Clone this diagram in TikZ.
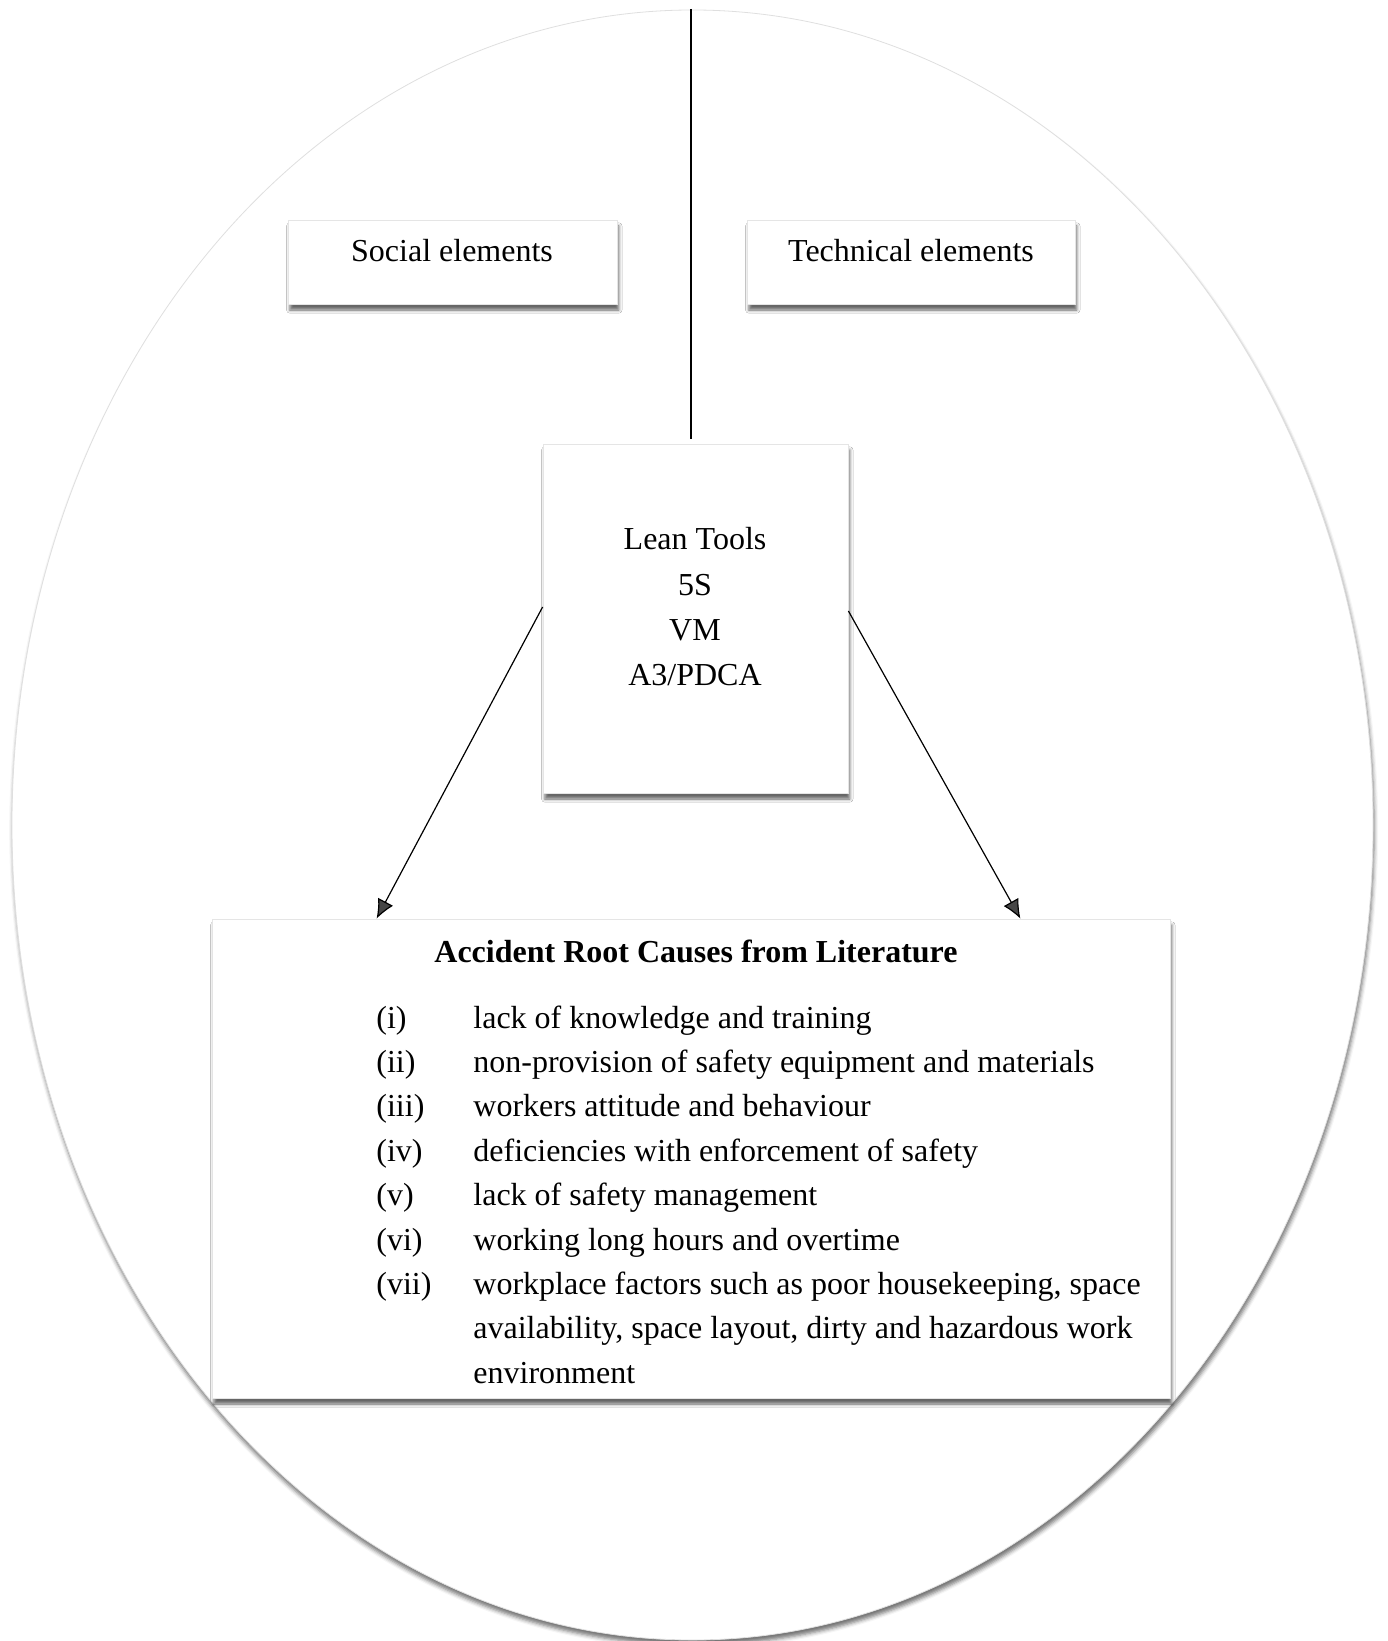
\documentclass[tikz,border=0pt]{standalone}
\usepackage{fontspec}
\setmainfont{Liberation Serif}
\usetikzlibrary{arrows.meta,shadows.blur,calc}

\begin{document}
\begin{tikzpicture}[x=0.5pt,y=-0.5pt,
  softshadow/.style={blur shadow={shadow xshift=0.9pt, shadow yshift=-3pt,
      shadow blur radius=1.6pt, shadow opacity=60}},
  ringshadow/.style={blur shadow={shadow xshift=0.6pt, shadow yshift=-2.5pt,
      shadow blur radius=2pt, shadow opacity=55}},
  panel/.style={draw=gray!20, line width=0.4pt, fill=white, inner sep=0pt, softshadow},
  txt/.style={font=\fontsize{16}{22.5}\selectfont, inner sep=0pt, anchor=base},
  itm/.style={txt, anchor=base west},
  arr/.style={-{Latex[length=9.5pt,width=8.5pt]}, line width=0.6pt},
]
\useasboundingbox (0,0) rectangle (1387,1641);
\clip (0,0) rectangle (1387,1641);

% outer ellipse
\path[draw=gray!25, line width=0.4pt, fill=white, ringshadow]
  (692.5,825) ellipse [x radius=680.5, y radius=815];

% boxes
\node[panel, minimum width=164.5pt, minimum height=42pt] (social) at (452.5,262) {};
\node[panel, minimum width=164pt, minimum height=42pt] (tech) at (911,262) {};
\node[panel, minimum width=152.5pt, minimum height=174.5pt] (lean) at (695.5,618.5) {};
\node[panel, minimum width=479pt, minimum height=239.5pt] (root) at (691,1158.5) {};

% box texts
\node[txt] (socialtxt) at (452,262) {Social elements};
\node[txt] (techtxt) at (911,262) {Technical elements};

\node[txt] (lean1) at (695,550) {Lean Tools};
\node[txt] (lean2) at (695,595) {5S};
\node[txt] (lean3) at (695,640) {VM};
\node[txt] (lean4) at (695,685) {A3/PDCA};

\node[txt, font=\fontsize{16}{22.5}\selectfont\bfseries] (title) at (696,962)
  {Accident Root Causes from Literature};

\node[itm] (n1) at (376,1028) {(i)};
\node[itm] (t1) at (473,1028) {lack of knowledge and training};
\node[itm] (n2) at (376,1072.4) {(ii)};
\node[itm] (t2) at (473,1072.4) {non-provision of safety equipment and materials};
\node[itm] (n3) at (376,1116.8) {(iii)};
\node[itm] (t3) at (473,1116.8) {workers attitude and behaviour};
\node[itm] (n4) at (376,1161.2) {(iv)};
\node[itm] (t4) at (473,1161.2) {deficiencies with enforcement of safety};
\node[itm] (n5) at (376,1205.6) {(v)};
\node[itm] (t5) at (473,1205.6) {lack of safety management};
\node[itm] (n6) at (376,1250) {(vi)};
\node[itm] (t6) at (473,1250) {working long hours and overtime};
\node[itm] (n7) at (376,1294.4) {(vii)};
\node[itm] (t7a) at (473,1294.4) {workplace factors such as poor housekeeping, space};
\node[itm] (t7b) at (473,1338.8) {availability, space layout, dirty and hazardous work};
\node[itm] (t7c) at (473,1383.2) {environment};

% dividing line from the top of the ellipse
\coordinate (topc) at (691,9);
\draw[line width=0.6pt] (topc) -- ([yshift=2.5pt]topc |- lean.north);

% arrows to the root causes box
\draw[arr] ([yshift=5.75pt]lean.west) -- ($(root.north west)+(165,0)$);
\draw[arr] ([yshift=3.75pt]lean.east) -- ($(root.north east)+(-150,0)$);
\end{tikzpicture}
\end{document}
